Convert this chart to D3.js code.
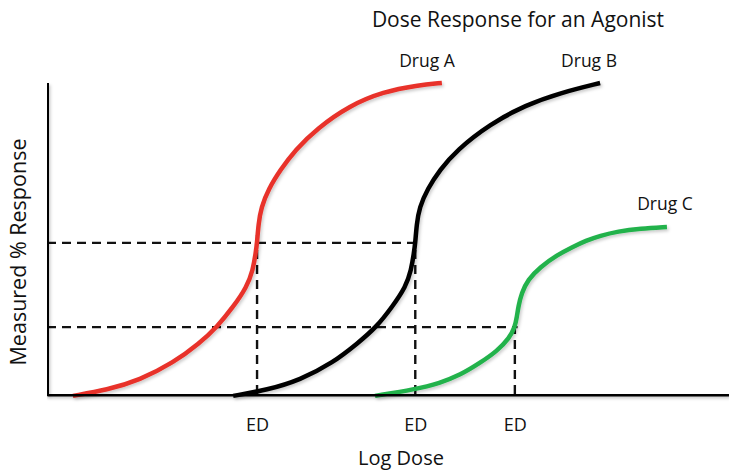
<!DOCTYPE html>
<html>
<head>
<meta charset="utf-8">
<script src="https://cdn.jsdelivr.net/npm/d3@7"></script>
<style>
  body { margin: 0; background: #fff; }
  text { font-family: 'Open Sans', sans-serif; fill: #111; }
</style>
</head>
<body>
<svg id="chart" width="729" height="471"></svg>
<script>
// Log dose (x) vs measured % response (y)
const drugA = [
  [0.38, -0.6], [0.88, 1.3], [1.36, 4.5], [1.85, 10.0], [2.24, 16.4], [2.49, 21.5],
  [2.73, 28.0], [2.93, 34.4], [3.02, 39.9], [3.06, 45.3], [3.08, 48.6], [3.10, 54.5],
  [3.14, 60.0], [3.25, 66.0], [3.42, 72.0], [3.64, 78.5], [3.96, 85.4], [4.44, 92.8],
  [4.93, 97.2], [5.43, 99.3], [5.79, 100]
];
const drugB = [
  [2.73, -0.6], [3.23, 1.3], [3.71, 4.5], [4.19, 10.0], [4.56, 16.4], [4.83, 21.5],
  [5.06, 28.0], [5.26, 34.4], [5.34, 39.9], [5.38, 45.3], [5.40, 48.6], [5.42, 54.5],
  [5.46, 60.0], [5.58, 66.0], [5.76, 72.0], [6.00, 78.3], [6.50, 86.9],
  [7.02, 92.9], [7.52, 96.8], [8.11, 100]
];
const drugC = [
  [4.81, -0.6], [5.40, 1.5], [5.76, 3.5], [6.06, 6.1], [6.35, 10.0], [6.60, 13.8],
  [6.78, 18.0], [6.86, 21.5], [6.89, 24.8], [6.91, 28.0], [6.96, 32.5], [7.05, 36.7],
  [7.23, 40.8], [7.48, 44.7], [7.71, 47.3], [7.90, 49.3], [8.11, 50.9], [8.37, 52.3],
  [8.70, 53.2], [9.09, 53.7]
];
const drugNames = ['Drug A', 'Drug B', 'Drug C'];
const drugColors = ['#e8322b', '#000000', '#22b24c'];
const edDoses = [3.08, 5.40, 6.86];
const edResponses = [48.6, 48.6, 21.5];
const tickLabels = ['ED', 'ED', 'ED'];

const svg = d3.select('#chart');
const margin = {top: 83, left: 47, right: 0, bottom: 77};
const width = 729, height = 471;

const x = d3.scaleLinear().domain([0, 10]).range([margin.left, width - margin.right]);
const y = d3.scaleLinear().domain([0, 100]).range([height - margin.bottom, margin.top]);

// soft shadow like the original office drawing (user space so flat lines keep it)
svg.append('defs').append('filter')
  .attr('id', 'shadow')
  .attr('filterUnits', 'userSpaceOnUse')
  .attr('x', 0).attr('y', 0)
  .attr('width', width).attr('height', height)
  .append('feDropShadow')
  .attr('dx', 1.5).attr('dy', 2)
  .attr('stdDeviation', 1.5)
  .attr('flood-color', '#000')
  .attr('flood-opacity', 0.2);

// Dashed guide lines: across from the y axis, then down to the x axis
const guides = svg.append('g').attr('class', 'guides')
  .style('stroke', '#111')
  .style('stroke-width', 2.4)
  .style('stroke-dasharray', '9,6');

// the upper line runs on to Drug B, the lower one to Drug C
[1, 2].forEach(i => {
  guides.append('line')
    .attr('x1', x(0)).attr('x2', x(edDoses[i] + 0.04))
    .attr('y1', y(edResponses[i])).attr('y2', y(edResponses[i]));
});

edDoses.forEach((d, i) => {
  guides.append('line')
    .attr('x1', x(d)).attr('x2', x(d))
    .attr('y1', y(0)).attr('y2', y(edResponses[i] + (i === 0 ? 3.5 : 0)));
});

// Curves
const line = d3.line()
  .x(d => x(d[0]))
  .y(d => y(d[1]))
  .curve(d3.curveBasis);

svg.append('g').attr('class', 'curves')
  .selectAll('path')
  .data([drugA, drugB, drugC])
  .join('path')
  .attr('d', line)
  .attr('filter', 'url(#shadow)')
  .style('fill', 'none')
  .style('stroke', (d, i) => drugColors[i])
  .style('stroke-width', 4.5)
  .style('stroke-linecap', 'butt');

// Axes
const xAxis = svg.append('g')
  .attr('transform', `translate(0, ${y(0)})`)
  .call(d3.axisBottom(x)
    .tickValues(edDoses)
    .tickFormat((d, i) => tickLabels[i])
    .tickSize(0)
    .tickSizeOuter(0)
    .tickPadding(24));
xAxis.select('.domain')
  .attr('filter', 'url(#shadow)')
  .style('stroke', '#000')
  .style('stroke-width', 4);
xAxis.selectAll('.tick text')
  .style('font-family', "'Open Sans', sans-serif")
  .style('font-size', '18px')
  .style('fill', '#111');

const yAxis = svg.append('g')
  .attr('transform', `translate(${x(0)}, 0)`)
  .call(d3.axisLeft(y).tickValues([]).tickSize(0).tickSizeOuter(0));
yAxis.select('.domain')
  .attr('d', `M0,${y(0) + 2}V${y(100)}`)
  .attr('filter', 'url(#shadow)')
  .style('stroke', '#000')
  .style('stroke-width', 4);

// Labels
svg.append('text')
  .attr('x', 518).attr('y', 27)
  .style('text-anchor', 'middle')
  .style('font-size', '21px')
  .text('Dose Response for an Agonist');

const drugLabelPos = [
  {x: 427, y: 67}, {x: 589, y: 67}, {x: 665, y: 210}
];
svg.append('g').selectAll('text')
  .data(drugNames)
  .join('text')
  .attr('x', (d, i) => drugLabelPos[i].x)
  .attr('y', (d, i) => drugLabelPos[i].y)
  .style('text-anchor', 'middle')
  .style('font-size', '17.5px')
  .text(d => d);

svg.append('text')
  .attr('x', 401).attr('y', 465)
  .style('text-anchor', 'middle')
  .style('font-size', '20px')
  .text('Log Dose');

svg.append('text')
  .attr('transform', 'translate(26, 252) rotate(-90)')
  .style('text-anchor', 'middle')
  .style('font-size', '21.5px')
  .text('Measured % Response');
</script>
</body>
</html>
